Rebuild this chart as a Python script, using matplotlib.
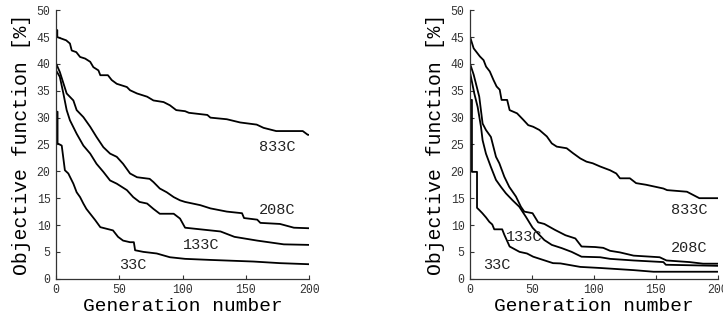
import matplotlib
matplotlib.use("Agg")
import matplotlib.pyplot as plt

plt.rcParams['font.family'] = ['Liberation Mono', 'DejaVu Sans Mono']

# ---- left panel: generation / objective value ----
gen_833_a = [0, 1, 1, 8, 11, 12.4, 16, 19, 23, 27, 29.5, 33.5, 35, 41, 44, 48, 56, 58.5, 64, 72, 77, 85, 90, 95,
             102, 105, 119.6, 122, 135, 145.5, 158.6, 164, 174, 195, 199, 200]
val_833_a = [46.3, 46.3, 45, 44.4, 43.8, 42.5, 42.2, 41.3, 41, 40.4, 39.4, 38.8, 37.9, 37.9, 37, 36.3, 35.7, 35.1,
             34.5, 33.9, 33.2, 32.9, 32.3, 31.4, 31.2, 30.9, 30.5, 30.0, 29.7, 29.1, 28.7, 28.1, 27.5, 27.5,
             26.8, 26.8]

gen_208_a = [0, 3, 8.4, 13.7, 16.3, 21.6, 27, 32, 37.4, 42.7, 48, 53, 58.5, 64, 74, 77, 82, 87.5, 93, 98, 102,
             114, 122, 135, 147, 148.6, 159, 161.5, 177, 188, 200]
val_208_a = [40.1, 38.5, 34.5, 33.2, 31.4, 30.1, 28.3, 26.4, 24.5, 23.3, 22.7, 21.4, 19.6, 18.9, 18.6, 18.0,
             16.8, 16.1, 15.2, 14.6, 14.3, 13.7, 13.1, 12.5, 12.2, 11.3, 11.0, 10.4, 10.2, 9.5, 9.4]

gen_133_a = [0, 3, 5.8, 8.4, 11, 16.3, 21.6, 27, 32, 37.4, 42.7, 48, 56, 61, 66, 72, 77, 82, 93, 98, 102,
             114, 130, 141, 159, 180, 200]
val_133_a = [38.8, 37.6, 34.5, 31.4, 29.5, 27.0, 24.8, 23.3, 21.4, 19.9, 18.3, 17.7, 16.5, 15.2, 14.3, 14.0,
             13.0, 12.1, 12.1, 11.2, 9.5, 9.2, 8.8, 7.8, 7.1, 6.4, 6.3]

gen_33_a = [0, 1.2, 1.2, 4.5, 7, 9.7, 13.7, 16.3, 19, 21.6, 24, 27, 31, 35, 40, 45, 49, 53, 58.5, 61.5, 62.5,
            69, 79.6, 90, 102, 122, 156, 177, 200]
val_33_a = [31.1, 31.1, 25.2, 24.8, 20.2, 19.6, 17.7, 16.1, 15.2, 14.0, 13.0, 12.1, 10.9, 9.6, 9.3, 9.0, 7.8,
            7.1, 6.8, 6.8, 5.3, 5.0, 4.7, 4.0, 3.7, 3.5, 3.2, 2.9, 2.7]

# ---- right panel ----
gen_833_b = [0, 3, 8, 11, 13, 16, 19, 21.5, 24, 25.5, 30, 32, 38, 43, 47, 51, 56, 62, 66, 70, 78, 83, 89, 94,
             99, 105, 113, 118, 121, 129, 134, 142, 156, 159, 175, 180, 185, 200]
val_833_b = [45.1, 42.9, 41.4, 40.7, 39.5, 38.6, 37.0, 35.8, 35.2, 33.3, 33.3, 31.4, 30.8, 29.6, 28.6, 28.3,
             27.7, 26.5, 25.2, 24.6, 24.3, 23.4, 22.4, 21.8, 21.5, 20.9, 20.2, 19.6, 18.7, 18.7, 17.8, 17.5,
             16.8, 16.5, 16.2, 15.6, 15.0, 15.0]

gen_208_b = [0, 3, 7.5, 10.2, 12.9, 16.9, 21, 23.7, 27.7, 31.7, 37.1, 41.1, 43.8, 50.5, 55, 60, 68.5, 77,
             85, 90, 101, 107.5, 113, 121, 132, 153, 158.5, 177, 188, 200]
val_208_b = [40.1, 38.0, 33.9, 28.9, 27.7, 26.4, 22.7, 21.5, 19.0, 17.1, 15.3, 13.4, 12.5, 12.2, 10.5, 10.2,
             9.1, 8.1, 7.5, 6.0, 5.9, 5.75, 5.2, 4.9, 4.3, 4.0, 3.4, 3.1, 2.8, 2.8]

gen_133_b = [0, 3.5, 6.2, 8.9, 10.2, 12.9, 16.9, 21, 25, 29, 34.4, 39.8, 45.2, 50.5, 55, 60, 66, 74, 82, 90,
             105, 113, 132, 156, 158, 200]
val_133_b = [38.5, 34.5, 32.0, 28.3, 25.8, 23.3, 20.8, 18.4, 17.1, 15.9, 14.6, 13.4, 11.5, 9.5, 8.4, 7.2,
             6.3, 5.7, 5.0, 4.1, 4.0, 3.7, 3.4, 3.1, 2.6, 2.4]

gen_33_b = [0, 1.6, 1.6, 5.7, 5.7, 7.5, 10, 13, 15.6, 18, 19.6, 26, 27.7, 32, 40, 46, 51, 59, 67, 73, 89, 105,
            132, 148, 200]
val_33_b = [33.3, 33.3, 19.9, 19.9, 13.2, 12.8, 12.2, 11.4, 10.6, 10.1, 9.2, 9.2, 8.2, 6.0, 5.0, 4.7, 4.1,
            3.5, 2.9, 2.85, 2.2, 2.0, 1.6, 1.3, 1.3]

labels = ['833C', '208C', '133C', '33C']
label_pos_a = [(175, 24.6), (175, 12.8), (115, 6.3), (61, 2.55)]
label_pos_b = [(177, 12.8), (177, 5.65), (44, 7.8), (21.5, 2.55)]

fig = plt.figure(figsize=(7.23, 3.2), dpi=100)
ax1 = fig.add_axes([0.0775, 0.129, 0.35, 0.839])
ax2 = fig.add_axes([0.650, 0.129, 0.343, 0.839])

panels = [
    (ax1, [(gen_833_a, val_833_a), (gen_208_a, val_208_a), (gen_133_a, val_133_a), (gen_33_a, val_33_a)],
     label_pos_a),
    (ax2, [(gen_833_b, val_833_b), (gen_208_b, val_208_b), (gen_133_b, val_133_b), (gen_33_b, val_33_b)],
     label_pos_b),
]

for ax, series, lpos in panels:
    for g, v in series:
        ax.plot(g, v, color='black', linewidth=1.3)
    for name, (lx, ly) in zip(labels, lpos):
        ax.text(lx, ly, name, ha='center', va='center', fontsize=11, color='#222222')
    ax.set_xlim(0, 200)
    ax.set_ylim(0, 50)
    ax.set_xticks([0, 50, 100, 150, 200])
    ax.set_yticks(range(0, 51, 5))
    ax.spines['top'].set_visible(False)
    ax.spines['right'].set_visible(False)
    for s in ('left', 'bottom'):
        ax.spines[s].set_linewidth(0.9)
        ax.spines[s].set_color('#333333')
    ax.tick_params(direction='in', length=3, width=0.8, labelsize=8.3, colors='#333333', pad=4)
    ax.set_xlabel('Generation number', fontsize=14, labelpad=1)
    ax.set_ylabel('Objective function [%]', fontsize=14.2, labelpad=4)

fig.savefig('out.png', dpi=100)
